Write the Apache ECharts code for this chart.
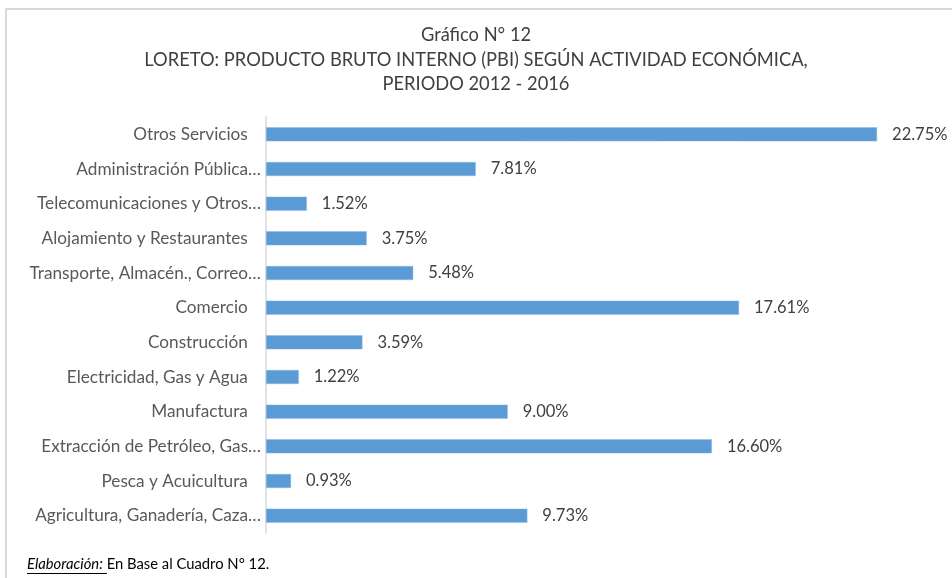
<!DOCTYPE html>
<html><head><meta charset="utf-8">
<script src="https://cdn.jsdelivr.net/npm/echarts@6/dist/echarts.min.js"></script>
<style>html,body{margin:0;padding:0;background:#fff}#c{width:952px;height:578px}</style>
</head><body><div id="c"></div>
<script>
var categories = [
  "Agricultura, Ganadería, Caza…",
  "Pesca y Acuicultura",
  "Extracción de Petróleo, Gas…",
  "Manufactura",
  "Electricidad, Gas y Agua",
  "Construcción",
  "Comercio",
  "Transporte, Almacén., Correo…",
  "Alojamiento y Restaurantes",
  "Telecomunicaciones y Otros…",
  "Administración Pública…",
  "Otros Servicios"
];
var values = [9.73, 0.93, 16.60, 9.00, 1.22, 3.59, 17.61, 5.48, 3.75, 1.52, 7.81, 22.75];
var titleLines = ["Gráfico N° 12", "LORETO: PRODUCTO BRUTO INTERNO (PBI) SEGÚN ACTIVIDAD ECONÓMICA,", "PERIODO 2012 - 2016"];
var footerLabel = "Elaboración:";
var footerText = " En Base al Cuadro N° 12.";

var FONT = "Lato";
var chart = echarts.init(document.getElementById('c'), null, {renderer: 'canvas'});
chart.setOption({
  animation: false,
  backgroundColor: '#fff',
  title: {
    text: titleLines[0] + '\n' + titleLines[1] + '\n' + titleLines[2],
    left: 'center', top: 18,
    textStyle: {fontFamily: FONT, fontSize: 18.3, fontWeight: 'normal', color: '#404040', lineHeight: 24.5}
  },
  grid: {left: 266, top: 117, height: 416, width: 671.5},
  xAxis: {type: 'value', min: 0, max: 25, show: false},
  yAxis: {
    type: 'category', data: categories,
    axisLine: {show: true, lineStyle: {color: '#d9d9d9', width: 1.5}},
    axisTick: {show: false},
    axisLabel: {
      fontFamily: FONT, fontSize: 17.2, color: '#595959', margin: 5,
      formatter: function (v) { return v.slice(-1) === '…' ? v : v + '   '; }
    }
  },
  series: [{
    type: 'bar', data: values, barWidth: 14,
    itemStyle: {color: '#5b9bd5', borderColor: '#8cb9e3', borderWidth: 0.5},
    label: {
      show: true, position: 'right', distance: 15,
      fontFamily: FONT, fontSize: 16.5, color: '#404040',
      formatter: function (p) { return p.value.toFixed(2) + '%'; }
    }
  }],
  graphic: [
    {type: 'rect', shape: {x: 6, y: 9, width: 960, height: 600}, style: {fill: 'none', stroke: '#d9d9d9', lineWidth: 2}, silent: true},
    {type: 'text', left: 27, top: 557, style: {
      text: '{a|' + footerLabel + '}{b|' + footerText + '}',
      rich: {
        a: {fontFamily: FONT, fontSize: 14.8, fontStyle: 'italic', fill: '#000'},
        b: {fontFamily: FONT, fontSize: 14.8, fill: '#000'}
      }
    }},
    {type: 'line', shape: {x1: 27, y1: 573.5, x2: 107, y2: 573.5}, style: {stroke: '#000', lineWidth: 1}}
  ]
});
</script>
</body></html>
